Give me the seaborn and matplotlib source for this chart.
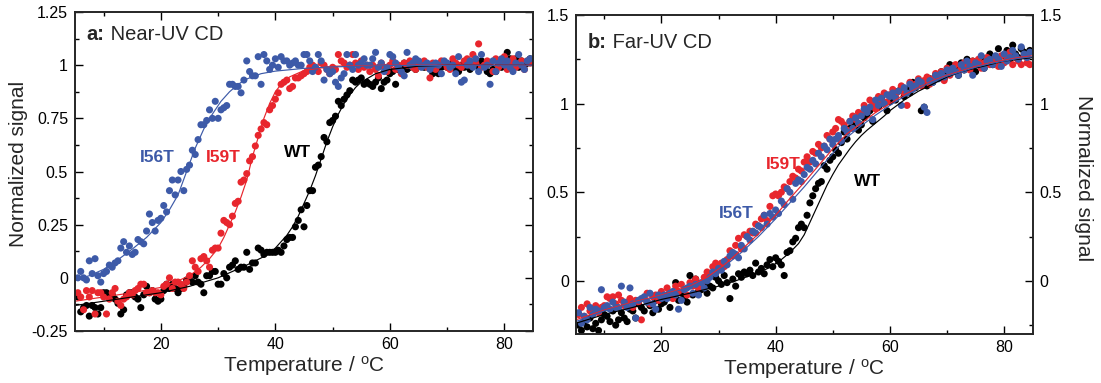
import matplotlib
matplotlib.use("Agg")
import matplotlib.pyplot as plt
from matplotlib.ticker import MultipleLocator, FixedLocator
import seaborn as sns
import pandas as pd

# ---------------- data ----------------
temps = [5.5, 6, 6.5, 7, 7.5, 8, 8.5, 9, 9.5, 10,
         10.5, 11, 11.5, 12, 12.5, 13, 13.5, 14, 14.5, 15,
         15.5, 16, 16.5, 17, 17.5, 18, 18.5, 19, 19.5, 20,
         20.5, 21, 21.5, 22, 22.5, 23, 23.5, 24, 24.5, 25,
         25.5, 26, 26.5, 27, 27.5, 28, 28.5, 29, 29.5, 30,
         30.5, 31, 31.5, 32, 32.5, 33, 33.5, 34, 34.5, 35,
         35.5, 36, 36.5, 37, 37.5, 38, 38.5, 39, 39.5, 40,
         40.5, 41, 41.5, 42, 42.5, 43, 43.5, 44, 44.5, 45,
         45.5, 46, 46.5, 47, 47.5, 48, 48.5, 49, 49.5, 50,
         50.5, 51, 51.5, 52, 52.5, 53, 53.5, 54, 54.5, 55,
         55.5, 56, 56.5, 57, 57.5, 58, 58.5, 59, 59.5, 60,
         60.5, 61, 61.5, 62, 62.5, 63, 63.5, 64, 64.5, 65,
         65.5, 66, 66.5, 67, 67.5, 68, 68.5, 69, 69.5, 70,
         70.5, 71, 71.5, 72, 72.5, 73, 73.5, 74, 74.5, 75,
         75.5, 76, 76.5, 77, 77.5, 78, 78.5, 79, 79.5, 80,
         80.5, 81, 81.5, 82, 82.5, 83, 83.5, 84, 84.5]

variants = ["WT", "I59T", "I56T"]

# Near-UV CD (panel a) measured points
near_wt = [-0.09, -0.16, -0.14, -0.13, -0.18, -0.13, -0.14, -0.17, -0.14, -0.07,
           -0.07, -0.09, -0.08, -0.10, -0.12, -0.17, -0.15, -0.08, -0.07, -0.07,
           -0.09, -0.10, -0.14, -0.08, -0.04, -0.07, -0.06, -0.10, -0.11, -0.10,
           -0.06, -0.03, -0.05, -0.03, -0.05, -0.07, -0.05, -0.04, -0.01, -0.01,
           -0.02, 0.01, -0.02, -0.03, -0.07, 0.01, 0.01, 0.03, 0.03, -0.03,
           -0.03, 0.02, 0.00, 0.05, 0.06, 0.08, 0.04, 0.05, 0.05, 0.12,
           0.04, 0.07, 0.07, 0.14, 0.13, 0.11, 0.12, 0.12, 0.12, 0.12,
           0.13, 0.12, 0.15, 0.18, 0.19, 0.19, 0.24, 0.27, 0.32, 0.24,
           0.34, 0.41, 0.41, 0.52, 0.53, 0.57, 0.66, 0.64, 0.73, 0.74,
           0.76, 0.83, 0.81, 0.84, 0.86, 0.88, 0.93, 0.92, 0.93, 0.94,
           0.91, 0.92, 0.91, 0.90, 0.92, 0.94, 0.89, 0.92, 0.93, 0.96,
           0.97, 0.91, 0.98, 0.99, 1.01, 0.98, 0.99, 1.00, 0.98, 1.00,
           1.00, 0.99, 1.00, 0.99, 0.96, 0.97, 0.96, 0.99, 1.00, 0.99,
           1.00, 1.01, 0.98, 0.97, 1.00, 0.99, 1.00, 0.98, 1.01, 1.00,
           0.99, 1.02, 1.00, 0.97, 0.96, 0.98, 0.97, 1.00, 0.99, 1.01,
           1.06, 1.03, 1.00, 1.03, 0.99, 1.02, 1.00, 1.01, 1.03]
near_i59t = [-0.07, -0.09, -0.15, -0.06, -0.09, -0.06, -0.17, -0.07, -0.07, -0.09,
             -0.17, -0.10, -0.07, -0.05, -0.11, -0.13, -0.10, -0.09, -0.07, -0.08,
             -0.06, -0.05, -0.03, -0.03, -0.07, -0.07, -0.06, -0.07, -0.07, -0.08,
             -0.04, -0.03, 0.00, -0.05, -0.02, -0.02, -0.03, -0.05, -0.02, 0.01,
             0.08, 0.05, 0.03, 0.09, 0.10, 0.08, 0.05, 0.13, 0.14, 0.14,
             0.21, 0.27, 0.26, 0.25, 0.29, 0.35, 0.36, 0.45, 0.46, 0.49,
             0.55, 0.57, 0.62, 0.67, 0.70, 0.73, 0.72, 0.79, 0.81, 0.84,
             0.87, 0.91, 0.92, 0.93, 0.89, 0.90, 0.94, 0.94, 0.95, 0.96,
             0.97, 0.99, 1.00, 0.99, 0.97, 1.01, 1.00, 0.98, 0.96, 0.99,
             0.98, 1.05, 1.02, 1.01, 0.99, 1.00, 1.05, 1.01, 0.98, 1.02,
             0.99, 1.00, 0.97, 1.00, 0.98, 0.95, 1.01, 0.99, 0.97, 1.00,
             1.02, 0.98, 1.00, 0.96, 1.01, 1.00, 1.02, 0.99, 0.98, 1.01,
             1.00, 1.02, 0.99, 0.94, 1.01, 0.98, 1.00, 1.02, 1.01, 0.99,
             0.98, 1.03, 1.01, 1.00, 0.99, 1.02, 1.03, 1.00, 1.05, 1.01,
             1.10, 0.99, 1.00, 1.02, 1.01, 0.97, 1.03, 0.99, 1.02, 1.04,
             0.98, 1.01, 1.03, 0.99, 1.00, 1.02, 0.98, 1.02, 1.01]
near_i56t = [0.00, 0.03, 0.00, -0.01, 0.08, 0.02, 0.09, 0.01, -0.02, 0.02,
             0.03, 0.06, 0.05, 0.07, 0.08, 0.14, 0.17, 0.12, 0.15, 0.11,
             0.12, 0.18, 0.17, 0.16, 0.22, 0.30, 0.26, 0.22, 0.27, 0.28,
             0.34, 0.31, 0.41, 0.46, 0.39, 0.46, 0.50, 0.41, 0.51, 0.53,
             0.60, 0.58, 0.65, 0.72, 0.72, 0.74, 0.79, 0.75, 0.83, 0.75,
             0.79, 0.80, 0.81, 0.91, 0.91, 0.90, 0.90, 0.87, 0.93, 1.02,
             0.97, 0.95, 0.95, 1.04, 0.91, 1.05, 1.02, 0.98, 1.00, 1.03,
             0.99, 1.04, 1.02, 1.02, 1.00, 1.01, 1.02, 1.00, 1.00, 1.05,
             1.05, 1.02, 0.97, 0.99, 1.05, 1.02, 0.93, 0.98, 0.96, 0.97,
             0.92, 0.90, 0.94, 0.96, 1.05, 1.00, 0.98, 1.05, 1.00, 1.01,
             1.03, 1.00, 1.00, 1.03, 1.06, 0.99, 1.01, 0.97, 0.99, 1.05,
             1.04, 1.01, 0.99, 0.97, 0.95, 1.06, 1.00, 1.01, 1.03, 1.02,
             0.99, 1.00, 1.01, 0.98, 1.00, 1.01, 1.00, 0.96, 1.02, 1.01,
             0.99, 1.00, 0.96, 1.04, 0.92, 0.93, 1.00, 1.02, 0.99, 1.03,
             0.97, 1.05, 0.99, 1.00, 0.91, 1.02, 0.97, 1.01, 1.03, 1.00,
             1.02, 0.99, 0.97, 1.01, 1.05, 1.00, 0.98, 1.02, 1.03]

# Near-UV fitted curves
near_fit_wt_t = [5, 10, 15, 20, 25, 30, 35, 38, 40, 42, 43, 44, 45, 46, 47, 48, 49, 50,
                 51, 52, 53, 54, 55, 57.5, 60, 65, 70, 85]
near_fit_wt_v = [-0.13, -0.11, -0.09, -0.07, -0.04, 0.0, 0.06, 0.10, 0.14, 0.20, 0.24, 0.29,
                 0.35, 0.41, 0.48, 0.56, 0.64, 0.71, 0.77, 0.82, 0.86, 0.895, 0.92, 0.96,
                 0.98, 0.995, 1.0, 1.0]
near_fit_i59t_t = [5, 10, 15, 20, 22.5, 25, 27, 28.5, 30, 31, 32, 33, 34, 35, 36, 37, 38,
                   39, 40, 41, 42.5, 45, 47.5, 50, 60, 85]
near_fit_i59t_v = [-0.11, -0.09, -0.07, -0.045, -0.02, 0.01, 0.05, 0.09, 0.14, 0.19, 0.25,
                   0.31, 0.38, 0.46, 0.57, 0.66, 0.75, 0.82, 0.875, 0.91, 0.945, 0.975,
                   0.985, 0.995, 1.0, 1.0]
near_fit_i56t_t = [5, 7.5, 10, 12.5, 15, 17.5, 20, 21.5, 23, 24.5, 26, 27.5, 29, 30.5, 32,
                   33.5, 35, 37.5, 40, 45, 50, 60, 85]
near_fit_i56t_v = [-0.01, 0.01, 0.04, 0.085, 0.135, 0.19, 0.26, 0.32, 0.39, 0.50, 0.61, 0.70,
                   0.77, 0.83, 0.875, 0.91, 0.935, 0.96, 0.972, 0.985, 0.992, 0.998, 1.0]

# Far-UV CD (panel b) measured points
far_wt = [-0.25, -0.28, -0.23, -0.26, -0.21, -0.27, -0.24, -0.28, -0.22, -0.19,
          -0.20, -0.23, -0.17, -0.25, -0.22, -0.18, -0.21, -0.23, -0.16, -0.17,
          -0.21, -0.13, -0.15, -0.17, -0.12, -0.14, -0.18, -0.11, -0.16, -0.13,
          -0.12, -0.08, -0.15, -0.09, -0.01, -0.11, -0.07, -0.10, -0.12, 0.03,
          -0.08, 0.01, -0.06, -0.05, -0.02, -0.07, -0.03, -0.04, 0.02, 0.00,
          -0.02, 0.03, -0.01, -0.10, 0.01, -0.03, 0.04, 0.02, 0.05, 0.04,
          0.06, 0.03, 0.10, 0.05, 0.07, 0.04, 0.09, 0.12, 0.08, 0.13,
          0.11, 0.09, 0.03, 0.16, 0.17, 0.22, 0.24, 0.30, 0.32, 0.30,
          0.37, 0.44, 0.48, 0.52, 0.55, 0.56, 0.65, 0.63, 0.68, 0.70,
          0.74, 0.72, 0.78, 0.84, 0.80, 0.86, 0.87, 0.90, 0.85, 0.88,
          0.92, 0.94, 0.96, 0.90, 1.00, 0.98, 1.03, 1.00, 0.96, 1.01,
          1.05, 1.02, 1.07, 1.09, 1.04, 1.08, 1.06, 1.12, 1.09, 1.11,
          0.96, 0.98, 1.10, 1.14, 1.12, 1.16, 1.15, 1.18, 1.14, 1.17,
          1.22, 1.18, 1.20, 1.16, 1.23, 1.19, 1.25, 1.21, 1.24, 1.18,
          1.22, 1.26, 1.20, 1.24, 1.28, 1.22, 1.26, 1.31, 1.23, 1.27,
          1.30, 1.25, 1.33, 1.28, 1.26, 1.31, 1.29, 1.27, 1.30]
far_i59t = [-0.19, -0.15, -0.20, -0.13, -0.17, -0.16, -0.14, -0.18, -0.15, -0.14,
            -0.09, -0.10, -0.09, -0.13, -0.08, -0.11, -0.14, -0.12, -0.10, -0.15,
            -0.11, -0.12, -0.22, -0.10, -0.07, -0.13, -0.09, -0.08, -0.11, -0.06,
            -0.09, -0.04, -0.07, -0.10, -0.03, -0.06, -0.02, -0.05, -0.08, -0.01,
            -0.03, 0.01, -0.04, -0.02, 0.02, 0.05, 0.04, 0.08, 0.10, 0.06,
            0.10, 0.08, 0.12, 0.17, 0.14, 0.20, 0.24, 0.18, 0.26, 0.25,
            0.28, 0.27, 0.32, 0.31, 0.35, 0.37, 0.34, 0.42, 0.48, 0.49,
            0.48, 0.50, 0.53, 0.52, 0.56, 0.59, 0.58, 0.63, 0.62, 0.67,
            0.70, 0.67, 0.73, 0.72, 0.77, 0.75, 0.76, 0.82, 0.80, 0.84,
            0.86, 0.91, 0.90, 0.88, 0.85, 0.90, 0.93, 0.91, 0.95, 0.94,
            0.99, 0.96, 1.02, 1.00, 0.97, 1.04, 1.02, 1.06, 1.01, 1.05,
            1.08, 1.04, 1.07, 1.10, 1.06, 0.99, 1.12, 1.09, 1.11, 1.14,
            1.10, 1.13, 1.15, 1.11, 1.14, 1.17, 1.15, 1.18, 1.13, 1.20,
            1.16, 1.19, 1.22, 1.18, 1.20, 1.23, 1.21, 1.19, 1.24, 1.22,
            1.25, 1.20, 1.23, 1.26, 1.22, 1.24, 1.26, 1.21, 1.27, 1.23,
            1.25, 1.29, 1.22, 1.26, 1.24, 1.22, 1.27, 1.23, 1.22]
far_i56t = [-0.18, -0.24, -0.20, -0.22, -0.15, -0.19, -0.16, -0.17, -0.05, -0.15,
            -0.14, -0.16, -0.12, -0.15, -0.15, -0.03, -0.12, -0.15, -0.04, -0.13,
            -0.21, -0.11, -0.10, -0.09, -0.12, -0.07, -0.13, -0.16, -0.08, -0.10,
            -0.08, -0.10, -0.07, -0.06, -0.08, -0.16, -0.11, -0.05, -0.04, -0.03,
            -0.07, -0.02, -0.08, -0.01, -0.04, 0.00, 0.02, 0.05, 0.04, 0.07,
            0.06, 0.11, 0.09, 0.14, 0.16, 0.15, 0.13, 0.20, 0.18, 0.25,
            0.23, 0.28, 0.27, 0.31, 0.30, 0.37, 0.32, 0.38, 0.36, 0.40,
            0.38, 0.45, 0.43, 0.52, 0.50, 0.46, 0.55, 0.57, 0.56, 0.60,
            0.64, 0.63, 0.68, 0.66, 0.72, 0.70, 0.76, 0.74, 0.80, 0.77,
            0.80, 0.82, 0.79, 0.86, 0.84, 0.90, 0.86, 0.92, 0.89, 0.93,
            0.97, 0.95, 0.98, 0.91, 1.02, 0.99, 1.03, 1.00, 1.05, 1.04,
            1.06, 1.03, 1.07, 0.99, 1.09, 1.06, 1.11, 1.08, 1.10, 1.13,
            1.12, 0.98, 0.95, 1.13, 1.12, 1.16, 1.14, 1.17, 1.15, 1.19,
            1.17, 1.20, 1.18, 1.16, 1.22, 1.19, 1.24, 1.21, 1.16, 1.23,
            1.22, 1.27, 1.20, 1.24, 1.25, 1.22, 1.27, 1.25, 1.21, 1.28,
            1.24, 1.26, 1.30, 1.27, 1.25, 1.32, 1.28, 1.26, 1.29]

# Far-UV fitted curves
far_fit_t = [5, 10, 15, 20, 25, 28, 31, 34, 37, 40, 42.5, 45, 47.5, 50, 52.5, 55, 57.5,
             60, 62.5, 65, 67.5, 70, 72.5, 75, 77.5, 80, 82.5, 85]
far_fit_i59t_v = [-0.22, -0.165, -0.12, -0.08, -0.03, 0.02, 0.09, 0.175, 0.265, 0.37,
                  0.465, 0.555, 0.65, 0.745, 0.83, 0.89, 0.95, 1.0, 1.05, 1.09, 1.13,
                  1.16, 1.185, 1.21, 1.23, 1.245, 1.26, 1.27]
far_fit_i56t_v = [-0.23, -0.17, -0.125, -0.085, -0.035, 0.01, 0.08, 0.16, 0.25, 0.35,
                  0.44, 0.53, 0.625, 0.72, 0.81, 0.875, 0.935, 0.99, 1.04, 1.085, 1.125,
                  1.155, 1.18, 1.205, 1.225, 1.24, 1.255, 1.265]
far_fit_wt_t = [5, 10, 15, 20, 25, 30, 33, 36, 39, 41, 42.5, 44, 45, 46, 47, 48, 49, 50,
                51, 52, 53, 54, 55, 56, 57.5, 59, 60, 62.5, 65, 67.5, 70, 72.5, 75, 77.5,
                80, 82.5, 85]
far_fit_wt_v = [-0.24, -0.19, -0.15, -0.105, -0.07, -0.03, 0.0, 0.035, 0.075, 0.12, 0.16,
                0.21, 0.26, 0.33, 0.40, 0.47, 0.54, 0.60, 0.655, 0.70, 0.745, 0.785, 0.82,
                0.85, 0.89, 0.93, 0.96, 1.02, 1.07, 1.11, 1.15, 1.18, 1.20, 1.22, 1.24,
                1.25, 1.26]

near_yticks = [-0.25, 0, 0.25, 0.5, 0.75, 1, 1.25]
near_yticklabels = ["-0.25", "0", "0.25", "0.5", "0.75", "1", "1.25"]
far_yticks = [0, 0.5, 1, 1.5]
far_yticklabels = ["0", "0.5", "1", "1.5"]
xticks = [20, 40, 60, 80]

colors = {"WT": "#000000", "I59T": "#e8262d", "I56T": "#3d5aa8"}

# ---------------- style ----------------
sns.set_style("ticks")
plt.rcParams["font.family"] = ["Liberation Sans", "DejaVu Sans"]
plt.rcParams["mathtext.fontset"] = "custom"
plt.rcParams["mathtext.rm"] = "Liberation Sans"
plt.rcParams["mathtext.bf"] = "Liberation Sans:bold"
plt.rcParams["mathtext.it"] = "Liberation Sans:italic"


def build_points(wt, i59, i56):
    frames = []
    for name, vals in zip(variants, [wt, i59, i56]):
        frames.append(pd.DataFrame({"T": temps, "v": vals, "variant": name}))
    return pd.concat(frames, ignore_index=True)


def build_fits(pairs):
    frames = []
    for name, (t, v) in zip(variants, pairs):
        frames.append(pd.DataFrame({"T": t, "v": v, "variant": name}))
    return pd.concat(frames, ignore_index=True)


near_pts = build_points(near_wt, near_i59t, near_i56t)
near_fit = build_fits([(near_fit_wt_t, near_fit_wt_v), (near_fit_i59t_t, near_fit_i59t_v),
                       (near_fit_i56t_t, near_fit_i56t_v)])
far_pts = build_points(far_wt, far_i59t, far_i56t)
far_fit = build_fits([(far_fit_wt_t, far_fit_wt_v), (far_fit_t, far_fit_i59t_v),
                      (far_fit_t, far_fit_i56t_v)])

fig = plt.figure(figsize=(11.01, 3.83), dpi=100)
W, H = 1101.0, 383.0
ax1 = fig.add_axes([75 / W, 1 - 331 / H, 458 / W, 319 / H])
ax2 = fig.add_axes([575.7 / W, 1 - 334 / H, 457 / W, 319 / H])

for ax, pts, fit in [(ax1, near_pts, near_fit), (ax2, far_pts, far_fit)]:
    sns.scatterplot(data=pts, x="T", y="v", hue="variant", hue_order=variants,
                    palette=colors, s=26, linewidth=0, legend=False, ax=ax)
    sns.lineplot(data=fit, x="T", y="v", hue="variant", hue_order=variants,
                 palette=colors, linewidth=0.85, legend=False, ax=ax,
                 estimator=None, sort=True)
    ax.set_xlim(5, 85)
    ax.xaxis.set_major_locator(FixedLocator(xticks))
    ax.xaxis.set_minor_locator(MultipleLocator(10))
    ax.set_xticklabels([str(t) for t in xticks])
    for s in ax.spines.values():
        s.set_linewidth(1.4)
        s.set_visible(True)
    ax.tick_params(which="both", direction="in", top=True, right=True, width=1.0,
                   labelsize=11.5, colors="black")
    ax.tick_params(which="major", length=6)
    ax.tick_params(which="minor", length=3)
    ax.tick_params(axis="x", pad=4.5)
    ax.tick_params(axis="y", pad=5)
    ax.set_ylabel("")
    ax.set_xlabel(r"Temperature / $^{\mathrm{o}}$C", fontsize=15)
    ax.xaxis.set_label_coords(0.5, -0.072)

ax1.set_ylim(-0.25, 1.25)
ax1.set_yticks(near_yticks)
ax1.set_yticklabels(near_yticklabels)
ax1.yaxis.set_minor_locator(MultipleLocator(0.125))

ax2.set_ylim(-0.3, 1.5)
ax2.set_yticks(far_yticks)
ax2.set_yticklabels(far_yticklabels)
ax2.yaxis.set_minor_locator(FixedLocator([-0.25, 0.25, 0.75, 1.25]))
ax2.tick_params(axis="y", labelright=True)

fig.text(19 / W, 1 - 164 / H, "Normalized signal", rotation=90, ha="center",
         va="center", fontsize=15)
fig.text(1084 / W, 1 - 178 / H, "Normalized signal", rotation=270, ha="center",
         va="center", fontsize=15)

for ax, (x, y), letter, rest in [(ax1, (0.0255, 0.911), "a:", " Near-UV CD"),
                                 (ax2, (0.027, 0.897), "b:", " Far-UV CD")]:
    t1 = ax.text(x, y, letter, transform=ax.transAxes, fontsize=14.5,
                 fontweight="bold", va="baseline", ha="left")
    ax.annotate(rest, xy=(1, 0), xycoords=t1, fontsize=14.5, va="bottom", ha="left")

lab_kw = dict(fontsize=12.5, fontweight="bold", ha="center", va="center")
ax1.text(19.3, 0.568, "I56T", color=colors["I56T"], **lab_kw)
ax1.text(30.85, 0.568, "I59T", color=colors["I59T"], **lab_kw)
ax1.text(43.95, 0.587, "WT", color=colors["WT"], **lab_kw)
ax2.text(41.27, 0.654, "I59T", color=colors["I59T"], **lab_kw)
ax2.text(56.15, 0.558, "WT", color=colors["WT"], **lab_kw)
ax2.text(33.05, 0.378, "I56T", color=colors["I56T"], **lab_kw)

fig.savefig("out.png", dpi=100)
